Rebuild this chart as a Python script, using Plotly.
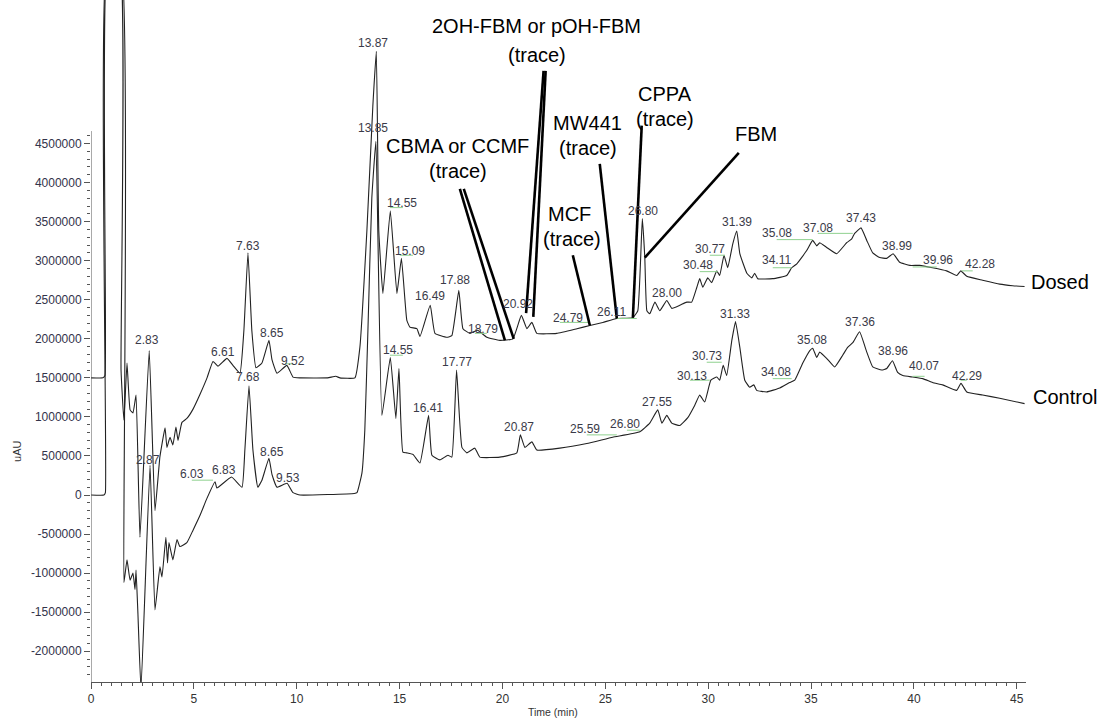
import plotly.graph_objects as go

# ---------------- data (time in min, signal in uAU) ----------------
# values above ~6.4e6 are off-scale (solvent front, clipped in the original)
dosed_t = [0, 0.58, 0.68, 0.80, 1.40, 1.46, 1.60, 1.75, 1.90, 2.04, 2.19, 2.38, 2.83, 3.11,
           3.35, 3.60, 3.69, 3.84, 3.98, 4.13, 4.23, 4.42, 4.66, 4.96, 5.30, 5.64, 5.93,
           6.17, 6.61, 6.90, 7.24, 7.43, 7.63, 7.82, 8.02, 8.31, 8.65, 8.80, 9.04, 9.52,
           9.82, 10.16, 11.5, 11.9, 12.1, 12.83, 13.07, 13.41, 13.70, 13.87, 13.99, 14.19,
           14.55, 14.87, 15.09, 15.35, 15.50, 15.84, 15.99, 16.49, 16.72, 17.30, 17.54,
           17.88, 18.08, 18.42, 18.79, 19.24, 19.87, 20.51, 20.92, 21.19, 21.43, 21.67,
           22.64, 23.62, 24.25, 24.88, 25.56, 26.34, 26.58, 26.80, 26.92, 27.02, 27.16,
           27.41, 27.65, 27.99, 28.23, 28.62, 28.96, 29.20, 29.45, 29.59, 29.74, 29.98,
           30.17, 30.42, 30.56, 30.77, 30.95, 31.20, 31.39, 31.54, 31.88, 32.12, 32.26,
           32.41, 33.14, 33.82, 34.06, 34.31, 34.79, 35.08, 35.28, 35.42, 35.76, 36.25,
           36.73, 36.98, 37.12, 37.43, 37.71, 38.00, 38.34, 38.68, 38.99, 39.31, 39.80,
           40.28, 40.91, 41.59, 42.08, 42.28, 42.57, 43.34, 44.17, 44.80, 45.38]
dosed_v = [1.50e6, 1.50e6, 1.53e6, 6.8e6, 6.8e6, 1.60e6, 0.96e6, 1.69e6, 1.09e6, 1.05e6,
           1.28e6, -0.54e6, 1.85e6, -0.20e6, 0.49e6, 0.86e6, 0.61e6, 0.74e6, 0.64e6,
           0.87e6, 0.70e6, 0.93e6, 0.98e6, 1.10e6, 1.29e6, 1.50e6, 1.71e6, 1.65e6,
           1.75e6, 1.66e6, 1.56e6, 2.10e6, 3.10e6, 2.10e6, 1.63e6, 1.69e6, 1.98e6,
           1.73e6, 1.56e6, 1.66e6, 1.51e6, 1.50e6, 1.50e6, 1.52e6, 1.50e6, 1.50e6,
           1.89e6, 3.38e6, 4.98e6, 5.68e6, 3.38e6, 2.58e6, 3.64e6, 2.58e6, 3.03e6,
           2.24e6, 2.15e6, 2.13e6, 2.03e6, 2.43e6, 2.07e6, 2.02e6, 2.04e6, 2.62e6,
           2.13e6, 2.07e6, 2.11e6, 2.02e6, 1.98e6, 2.00e6, 2.30e6, 2.13e6, 2.21e6,
           2.07e6, 2.07e6, 2.13e6, 2.17e6, 2.21e6, 2.26e6, 2.27e6, 2.36e6, 3.54e6,
           3.04e6, 2.36e6, 2.32e6, 2.47e6, 2.36e6, 2.49e6, 2.39e6, 2.43e6, 2.47e6,
           2.47e6, 2.66e6, 2.77e6, 2.66e6, 2.78e6, 2.72e6, 2.87e6, 2.81e6, 3.07e6,
           2.91e6, 3.22e6, 3.38e6, 3.09e6, 2.84e6, 2.78e6, 2.84e6, 2.77e6, 2.77e6,
           2.81e6, 2.91e6, 2.96e6, 3.13e6, 3.26e6, 3.19e6, 3.23e6, 3.17e6, 3.09e6,
           3.23e6, 3.28e6, 3.35e6, 3.42e6, 3.26e6, 3.10e6, 3.04e6, 3.03e6, 3.09e6,
           2.98e6, 2.94e6, 2.94e6, 2.91e6, 2.87e6, 2.81e6, 2.87e6, 2.80e6, 2.75e6,
           2.70e6, 2.68e6, 2.67e6]

control_t = [0, 0.63, 0.70, 0.78, 1.45, 1.60, 1.75, 1.90, 2.04, 2.14, 2.19, 2.28, 2.43,
             2.87, 3.11, 3.35, 3.45, 3.64, 3.72, 3.79, 3.98, 4.18, 4.32, 4.66, 4.96, 5.30,
             5.64, 6.03, 6.12, 6.83, 7.34, 7.48, 7.68, 7.87, 8.11, 8.31, 8.65, 8.80, 9.04,
             9.53, 9.82, 10.16, 12.8, 12.93, 13.17, 13.31, 13.46, 13.65, 13.85, 14.14,
             14.55, 14.82, 14.97, 15.16, 15.35, 15.65, 15.99, 16.41, 16.57, 16.96, 17.35,
             17.54, 17.77, 18.03, 18.27, 18.66, 18.90, 19.87, 20.70, 20.87, 21.09, 21.43,
             21.67, 22.79, 24.10, 25.36, 26.68, 27.16, 27.55, 27.75, 27.99, 28.23, 28.62,
             29.01, 29.35, 29.59, 29.83, 30.13, 30.42, 30.56, 30.73, 30.90, 31.15, 31.33,
             31.54, 31.78, 32.02, 32.22, 32.36, 32.85, 33.48, 33.96, 34.21, 34.60, 34.94,
             35.08, 35.28, 35.42, 35.76, 36.15, 36.54, 36.78, 37.03, 37.36, 37.71, 38.00,
             38.44, 38.68, 38.96, 39.21, 39.46, 39.94, 40.43, 40.91, 41.40, 42.08, 42.29,
             42.57, 43.34, 44.17, 45.38]
control_v = [0, 0, 0.03e6, 6.8e6, 6.8e6, -1.12e6, -0.83e6, -1.09e6, -1.00e6, -1.21e6,
             -0.96e6, -1.51e6, -2.49e6, 0.38e6, -1.47e6, -0.92e6, -1.05e6, -0.54e6,
             -0.87e6, -0.61e6, -0.83e6, -0.57e6, -0.66e6, -0.61e6, -0.45e6, -0.26e6,
             -0.04e6, 0.17e6, 0.09e6, 0.23e6, 0.10e6, 0.58e6, 1.40e6, 0.58e6, 0.10e6,
             0.19e6, 0.47e6, 0.26e6, 0.10e6, 0.15e6, 0.03e6, 0, 0.02e6, 0.03e6, 0.28e6,
             0.83e6, 2.10e6, 3.80e6, 4.53e6, 1.02e6, 1.76e6, 0.98e6, 1.62e6, 0.55e6,
             0.54e6, 0.52e6, 0.41e6, 1.02e6, 0.51e6, 0.45e6, 0.51e6, 0.485e6, 1.60e6,
             0.61e6, 0.54e6, 0.60e6, 0.485e6, 0.485e6, 0.54e6, 0.77e6, 0.61e6, 0.68e6,
             0.575e6, 0.60e6, 0.66e6, 0.74e6, 0.81e6, 0.92e6, 1.09e6, 0.92e6, 1.02e6,
             0.92e6, 0.89e6, 0.99e6, 1.15e6, 1.28e6, 1.19e6, 1.47e6, 1.51e6, 1.47e6,
             1.66e6, 1.53e6, 1.98e6, 2.22e6, 1.89e6, 1.47e6, 1.38e6, 1.41e6, 1.34e6,
             1.32e6, 1.37e6, 1.44e6, 1.47e6, 1.69e6, 1.85e6, 1.88e6, 1.76e6, 1.83e6,
             1.75e6, 1.64e6, 1.79e6, 1.89e6, 1.95e6, 2.09e6, 1.83e6, 1.64e6, 1.60e6,
             1.62e6, 1.72e6, 1.57e6, 1.53e6, 1.51e6, 1.49e6, 1.44e6, 1.41e6, 1.34e6,
             1.43e6, 1.32e6, 1.28e6, 1.24e6, 1.17e6]

# peak labels: (text, label time, label signal)
dosed_peaks = [("2.83", 2.72, 1.98e6), ("6.61", 6.41, 1.83e6), ("7.63", 7.63, 3.19e6),
               ("8.65", 8.80, 2.07e6), ("9.52", 9.82, 1.72e6), ("13.87", 13.70, 5.79e6),
               ("14.55", 15.11, 3.74e6), ("15.09", 15.50, 3.13e6), ("16.49", 16.47, 2.55e6),
               ("17.88", 17.69, 2.75e6), ("18.79", 19.05, 2.13e6), ("20.92", 20.75, 2.45e6),
               ("24.79", 23.18, 2.27e6), ("26.11", 25.32, 2.34e6), ("26.80", 26.82, 3.64e6),
               ("28.00", 27.99, 2.59e6), ("30.48", 29.50, 2.94e6), ("30.77", 30.08, 3.15e6),
               ("31.39", 31.39, 3.50e6), ("34.11", 33.33, 3.01e6), ("35.08", 33.33, 3.36e6),
               ("37.08", 35.33, 3.42e6), ("37.43", 37.41, 3.55e6), ("38.99", 39.16, 3.19e6),
               ("39.96", 41.16, 3.01e6), ("42.28", 43.20, 2.96e6)]
control_peaks = [("2.87", 2.77, 0.45e6), ("6.03", 4.91, 0.27e6), ("6.83", 6.46, 0.32e6),
                 ("7.68", 7.63, 1.51e6), ("8.65", 8.80, 0.55e6), ("9.53", 9.57, 0.22e6),
                 ("13.85", 13.70, 4.70e6), ("14.55", 14.92, 1.86e6), ("16.41", 16.38, 1.12e6),
                 ("17.77", 17.78, 1.70e6), ("20.87", 20.80, 0.87e6), ("25.59", 24.00, 0.84e6),
                 ("26.80", 25.95, 0.91e6), ("27.55", 27.50, 1.19e6), ("30.13", 29.20, 1.53e6),
                 ("30.73", 29.93, 1.78e6), ("31.33", 31.29, 2.32e6), ("34.08", 33.28, 1.57e6),
                 ("35.08", 35.03, 1.99e6), ("37.36", 37.37, 2.21e6), ("38.96", 38.97, 1.84e6),
                 ("40.07", 40.48, 1.65e6), ("42.29", 42.57, 1.53e6)]

# green integration marks under some labels: (t0, t1, level)
green_marks = [(4.90, 5.93, 0.19e6), (9.43, 9.82, 1.68e6), (14.53, 15.16, 3.68e6),
               (15.01, 15.65, 3.07e6), (14.53, 15.16, 1.79e6), (22.79, 24.25, 2.21e6),
               (24.10, 25.56, 0.77e6), (26.05, 26.68, 0.83e6), (29.59, 30.47, 2.86e6),
               (30.08, 30.81, 3.07e6), (33.33, 35.08, 3.27e6), (35.33, 37.03, 3.35e6),
               (33.14, 34.06, 2.91e6), (39.94, 41.11, 2.92e6), (42.32, 42.86, 2.87e6),
               (29.11, 30.08, 1.47e6), (29.93, 30.66, 1.70e6), (33.14, 34.06, 1.49e6),
               (39.94, 40.52, 1.52e6), (42.27, 42.57, 1.47e6), (18.66, 19.24, 2.07e6),
               (25.56, 26.53, 2.26e6)]

# compound call-outs: text lines, text anchors (t, v), pointer segments
callouts = [
    (["2OH-FBM or pOH-FBM", "(trace)"], (21.67, 6.00e6), (21.67, 5.64e6),
     [((22.00, 5.43e6), (21.15, 2.33e6)), ((22.10, 5.43e6), (21.50, 2.28e6))]),
    (["CBMA or CCMF", "(trace)"], (17.83, 4.47e6), (17.83, 4.15e6),
     [((17.93, 3.92e6), (20.12, 1.98e6)), ((18.12, 3.92e6), (20.55, 2.00e6))]),
    (["MW441", "(trace)"], (24.15, 4.76e6), (24.15, 4.44e6),
     [((24.73, 4.24e6), (25.56, 2.26e6))]),
    (["MCF", "(trace)"], (23.28, 3.60e6), (23.37, 3.28e6),
     [((23.42, 3.07e6), (24.25, 2.17e6))]),
    (["CPPA", "(trace)"], (27.89, 5.13e6), (27.89, 4.81e6),
     [((26.77, 4.73e6), (26.34, 2.27e6))]),
    (["FBM"], (32.31, 4.62e6), None,
     [((31.49, 4.38e6), (26.92, 3.04e6))]),
]

y_major = [-2000000, -1500000, -1000000, -500000, 0, 500000, 1000000, 1500000, 2000000,
           2500000, 3000000, 3500000, 4000000, 4500000]
x_major = [0, 5, 10, 15, 20, 25, 30, 35, 40, 45]

Y_MIN, Y_MAX = -2.394e6, 6.338e6
Y_AXIS_TOP = 4.66e6
X_MAX = 45.45

FONT = "Liberation Sans, Arial, sans-serif"
LINE = "#222222"
BIG = 20

fig = go.Figure()
for tt, vv in ((dosed_t, dosed_v), (control_t, control_v)):
    fig.add_trace(go.Scatter(x=tt, y=vv, mode="lines",
                             line=dict(color=LINE, width=1.1, shape="spline", smoothing=0.35),
                             showlegend=False))

annotations = []
shapes = []
for t0, t1, lv in green_marks:
    shapes.append(dict(type="line", xref="x", yref="y", x0=t0, x1=t1, y0=lv, y1=lv,
                       line=dict(color="#8fd18f", width=1)))

for txt, t, v in dosed_peaks + control_peaks:
    annotations.append(dict(x=t, y=v, xref="x", yref="y", text=txt, showarrow=False,
                            font=dict(family=FONT, size=12, color="#3a3a48")))

for lines, a1, a2, segs in callouts:
    annotations.append(dict(x=a1[0], y=a1[1], xref="x", yref="y", text=lines[0],
                            showarrow=False, font=dict(family=FONT, size=BIG, color="black")))
    if a2 is not None:
        annotations.append(dict(x=a2[0], y=a2[1], xref="x", yref="y", text=lines[1],
                                showarrow=False, font=dict(family=FONT, size=BIG, color="black")))
    for (p0, p1) in segs:
        shapes.append(dict(type="line", xref="x", yref="y", x0=p0[0], y0=p0[1],
                           x1=p1[0], y1=p1[1], line=dict(color="black", width=2.6)))

# y axis line (only up to the last labelled range)
shapes.append(dict(type="line", xref="x", yref="y", x0=0, x1=0, y0=Y_MIN, y1=Y_AXIS_TOP,
                   line=dict(color="#555555", width=1)))

annotations.append(dict(x=1.036, y=0.587, xref="paper", yref="paper", text="Dosed",
                        showarrow=False, xanchor="center",
                        font=dict(family=FONT, size=BIG, color="black")))
annotations.append(dict(x=1.042, y=0.418, xref="paper", yref="paper", text="Control",
                        showarrow=False, xanchor="center",
                        font=dict(family=FONT, size=BIG, color="black")))
annotations.append(dict(x=-0.087, y=0.32, xref="paper", yref="paper", text="uAU",
                        showarrow=False, textangle=-90,
                        font=dict(family=FONT, size=11, color="#333333")))
annotations.append(dict(x=0.494, y=-0.044, xref="paper", yref="paper", text="Time (min)",
                        showarrow=False, yanchor="middle",
                        font=dict(family=FONT, size=10.5, color="#333333")))

minor_y = [v for v in range(-2300000, 4700000, 100000)]

fig.update_layout(
    width=1100, height=720,
    margin=dict(l=91, r=74, t=0, b=38),
    paper_bgcolor="white", plot_bgcolor="white",
    annotations=annotations, shapes=shapes,
    xaxis=dict(range=[0, X_MAX], tickmode="array", tickvals=x_major,
               ticks="outside", ticklen=6, tickcolor="#555555", showgrid=False,
               zeroline=False, showline=True, linecolor="#555555", linewidth=1,
               tickfont=dict(family=FONT, size=12, color="#333333"),
               minor=dict(dtick=0.5, tick0=0, ticks="outside", ticklen=3,
                          tickcolor="#555555", showgrid=False)),
    yaxis=dict(range=[Y_MIN, Y_MAX], tickmode="array", tickvals=y_major,
               ticktext=[str(v) for v in y_major],
               ticks="outside", ticklen=6, tickcolor="#555555", showgrid=False,
               zeroline=False, showline=False,
               tickfont=dict(family=FONT, size=12, color="#33334a"),
               minor=dict(tickmode="array", tickvals=minor_y, ticks="outside", ticklen=3,
                          tickcolor="#555555", showgrid=False)),
)

fig.write_html("out.html")
